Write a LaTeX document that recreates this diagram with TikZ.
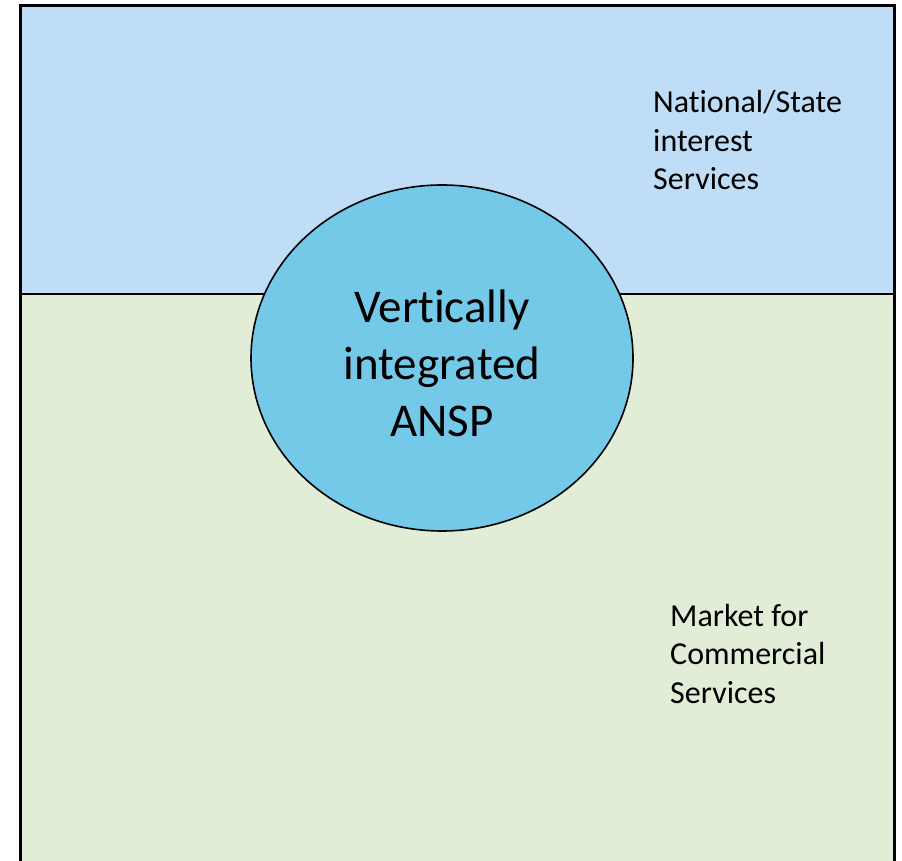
\documentclass[tikz,border=0pt]{standalone}
\usepackage{fontspec}
\setmainfont[Ligatures=CommonOff]{Carlito}
\usetikzlibrary{shapes.geometric, positioning}
\definecolor{ansptop}{HTML}{BFDDF7}
\definecolor{anspmarket}{HTML}{E2EDD8}
\definecolor{anspcore}{HTML}{74C9E9}

\begin{document}
\begin{tikzpicture}[
  x=1pt, y=1pt,
  label/.style={anchor=base west, inner sep=0pt, align=left, font=\fontsize{32}{38.5}\selectfont},
  border/.style={draw=black, line width=3pt},
  core/.style={ellipse, draw=black, line width=1.6pt, fill=anspcore, minimum width=382pt, minimum height=346pt, inner sep=0pt},
  coretext/.style={inner sep=0pt, align=center, font=\fontsize{47}{57}\selectfont},
]
\useasboundingbox (0,0) rectangle (902,860);

% Regions
\fill[ansptop] (20.5,566) rectangle (894,854);
\fill[anspmarket] (20.5,-10) rectangle (894,566);
\draw[line width=1.8pt] (20.5,566) -- (894,566);
\draw[border] (20.5,-10) -- (20.5,854) -- (894,854) -- (894,-10);

% Central provider
\node[core] (ansp) at (442,502) {};
\node[coretext] (ansptext) at ([yshift=-5.5pt]ansp.center) {Vertically\\integrated\\ANSP};

% Labels
\node[label] (state) at (653,670) {National/State\\interest\\Services};
\node[label] (market) at (670,157) {Market for\\Commercial\\Services};

\end{tikzpicture}
\end{document}
